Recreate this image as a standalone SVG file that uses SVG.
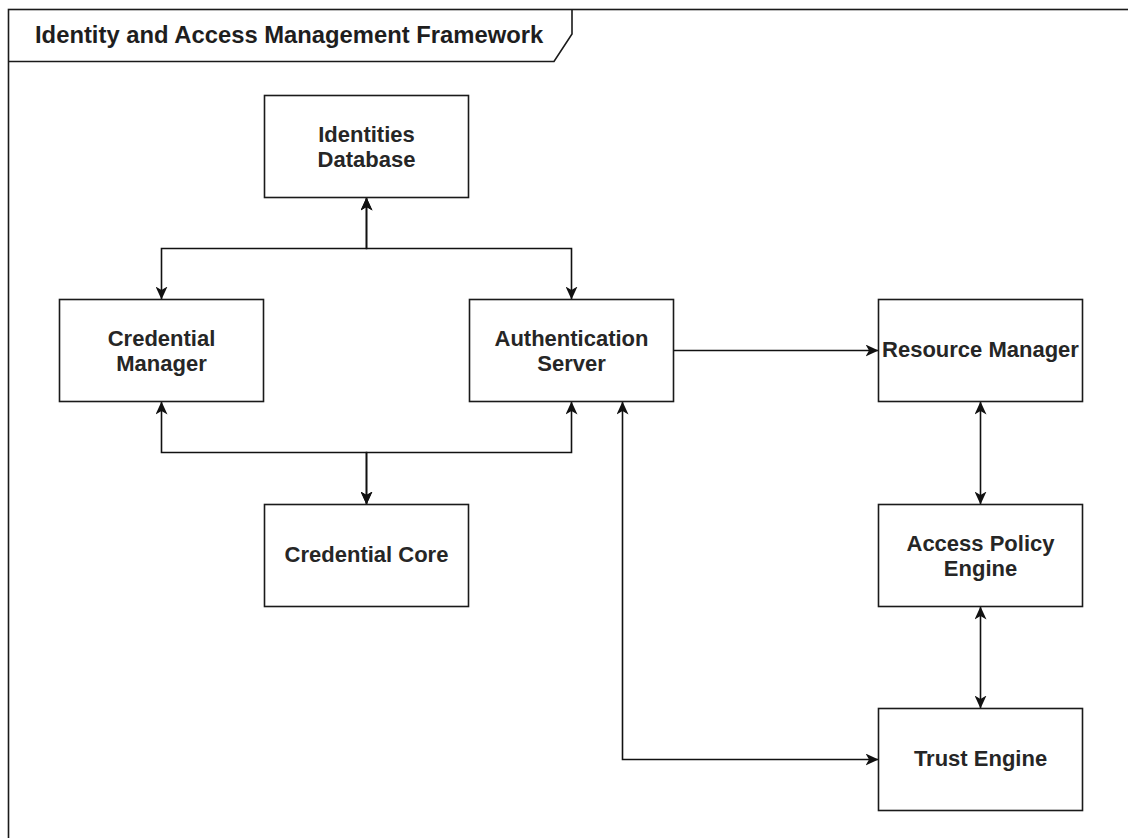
<svg xmlns="http://www.w3.org/2000/svg" width="1128" height="838" viewBox="0 0 1128 838">
  <style>
    .box { fill: #ffffff; stroke: #1a1a1a; stroke-width: 1.6; }
    .frame { fill: none; stroke: #1a1a1a; stroke-width: 1.6; }
    .edge { fill: none; stroke: #111111; stroke-width: 1.6; }
    .label { font-family: "Liberation Sans", Arial, sans-serif; font-weight: bold; font-size: 22px; fill: #262626; text-anchor: middle; }
    .title { font-family: "Liberation Sans", Arial, sans-serif; font-weight: bold; font-size: 23.8px; fill: #1e1e1e; }
  </style>
  <defs>
    <marker id="arrow" viewBox="0 0 13 12" refX="13" refY="6" markerWidth="13" markerHeight="12" markerUnits="userSpaceOnUse" orient="auto-start-reverse">
      <path d="M0,0 L13,6 L0,12 L3.5,6 Z" fill="#111111"/>
    </marker>
  </defs>

  <rect width="1128" height="838" fill="#ffffff"/>

  <!-- outer frame with name tab -->
  <g id="frame">
    <rect class="frame" x="8.5" y="9.5" width="1130" height="840"/>
    <path class="frame" d="M8.5,61.5 H554 L572,34 V9.5"/>
    <text class="title" x="35" y="43">Identity and Access Management Framework</text>
  </g>

  <!-- connectors -->
  <g id="connectors">
    <path class="edge" d="M366.5,197.5 V248.5 H161.5 V299.5" marker-start="url(#arrow)" marker-end="url(#arrow)"/>
    <path class="edge" d="M366.5,197.5 V248.5 H571.5 V299.5" marker-start="url(#arrow)" marker-end="url(#arrow)"/>
    <path class="edge" d="M161.5,401.5 V452.5 H366.5 V504.5" marker-start="url(#arrow)" marker-end="url(#arrow)"/>
    <path class="edge" d="M571.5,401.5 V452.5 H366.5 V504.5" marker-start="url(#arrow)" marker-end="url(#arrow)"/>
    <path class="edge" d="M673.5,350.5 H878.5" marker-end="url(#arrow)"/>
    <path class="edge" d="M980.5,401.5 V504.5" marker-start="url(#arrow)" marker-end="url(#arrow)"/>
    <path class="edge" d="M980.5,606.5 V708.5" marker-start="url(#arrow)" marker-end="url(#arrow)"/>
    <path class="edge" d="M622.5,401.5 V759.5 H878.5" marker-start="url(#arrow)" marker-end="url(#arrow)"/>
  </g>

  <!-- nodes -->
  <g id="identities-database">
    <rect class="box" x="264.5" y="95.5" width="204" height="102"/>
    <text class="label" x="366.5" y="141.7">Identities</text>
    <text class="label" x="366.5" y="166.7">Database</text>
  </g>
  <g id="credential-manager">
    <rect class="box" x="59.5" y="299.5" width="204" height="102"/>
    <text class="label" x="161.5" y="345.7">Credential</text>
    <text class="label" x="161.5" y="370.7">Manager</text>
  </g>
  <g id="authentication-server">
    <rect class="box" x="469.5" y="299.5" width="204" height="102"/>
    <text class="label" x="571.5" y="345.7">Authentication</text>
    <text class="label" x="571.5" y="370.7">Server</text>
  </g>
  <g id="credential-core">
    <rect class="box" x="264.5" y="504.5" width="204" height="102"/>
    <text class="label" x="366.5" y="561.5">Credential Core</text>
  </g>
  <g id="resource-manager">
    <rect class="box" x="878.5" y="299.5" width="204" height="102"/>
    <text class="label" x="980.5" y="356.5">Resource Manager</text>
  </g>
  <g id="access-policy-engine">
    <rect class="box" x="878.5" y="504.5" width="204" height="102"/>
    <text class="label" x="980.5" y="550.7">Access Policy</text>
    <text class="label" x="980.5" y="575.7">Engine</text>
  </g>
  <g id="trust-engine">
    <rect class="box" x="878.5" y="708.5" width="204" height="102"/>
    <text class="label" x="980.5" y="765.5">Trust Engine</text>
  </g>
</svg>
